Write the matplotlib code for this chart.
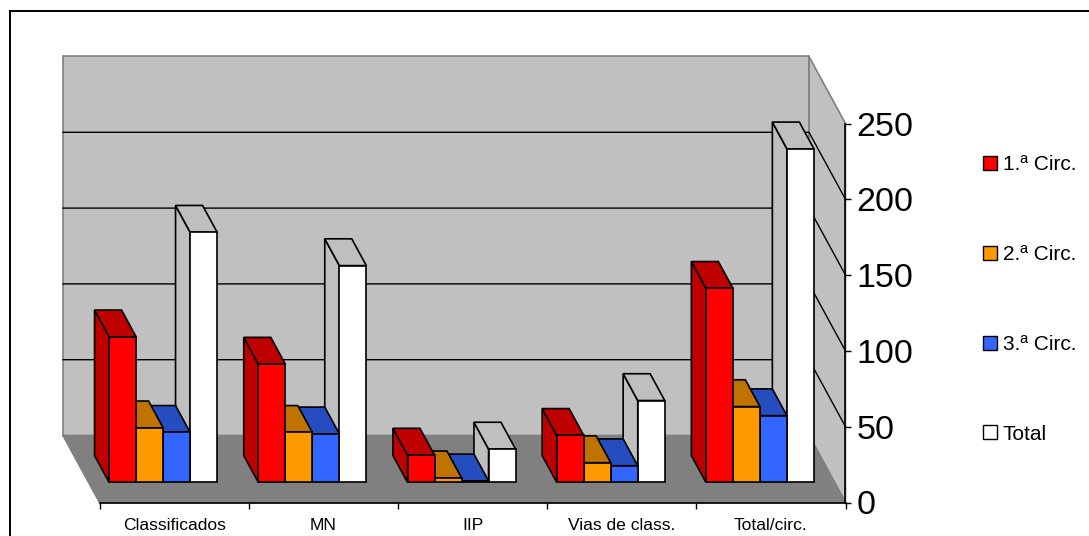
import matplotlib
matplotlib.use('Agg')
import matplotlib.pyplot as plt
from matplotlib.patches import Rectangle, Patch

categories = ['Classificados', 'MN', 'IIP', 'Vias de class.', 'Total/circ.']
circ1 = [96, 78, 18, 31, 128]
circ2 = [36, 33, 3, 13, 50]
circ3 = [33, 32, 1, 11, 44]
total = [165, 143, 22, 54, 220]
series_names = ['1.ª Circ.', '2.ª Circ.', '3.ª Circ.', 'Total']
colors = ['#FF0000', '#FF9900', '#3366FF', '#FFFFFF']
shades = ['#BF0000', '#BF7300', '#254DBF', '#BFBFBF']
yticks = [0, 50, 100, 150, 200, 250]

W, H = 1089, 536
plt.rcParams['font.family'] = ['Liberation Sans', 'DejaVu Sans']
fig = plt.figure(figsize=(W / 100, H / 100), dpi=100)
fig.patch.set_facecolor('white')

# front plane of the box, in pixels
ax = fig.add_axes([99.5 / W, 1 - 502.5 / H, 746 / W, 379 / H])
ax.set_xlim(0, 5)
ax.set_ylim(0, 250)
ax.patch.set_visible(False)

# depth of the box in data units
DX = 36.5 / 149.2
DY = 67 / 1.516


def proj(x, y, d):
    return x - DX * d, y + DY * d


def face(pts, color, edge='black', lw=1.2, z=2):
    xy = [proj(*p) for p in pts]
    ax.fill([p[0] for p in xy], [p[1] for p in xy], facecolor=color, edgecolor=edge,
            linewidth=lw, clip_on=False, zorder=z, joinstyle='miter')


# walls and floor
face([(0, 0, 1), (5, 0, 1), (5, 250, 1), (0, 250, 1)], '#C0C0C0', edge='#808080', z=1)
face([(5, 0, 1), (5, 0, 0), (5, 250, 0), (5, 250, 1)], '#C0C0C0', edge='#808080', z=1)
face([(0, 0, 1), (5, 0, 1), (5, 0, 0), (0, 0, 0)], '#808080', edge='#808080', z=1)

# gridlines on back and side wall
for v in yticks[1:-1]:
    a = proj(0, v, 1)
    b = proj(5, v, 1)
    c = proj(5, v, 0)
    ax.plot([a[0], b[0], c[0]], [a[1], b[1], c[1]], color='black', lw=1.0, clip_on=False, zorder=1.5)

# bars, right to left so the left ones cover the side faces
series = [circ1, circ2, circ3, total]
bw = 27 / 149.2
start = (1 - 4 * bw) / 2
z = 3
d0, d1 = 0.3, 0.7
for g in range(len(categories) - 1, -1, -1):
    for s in range(3, -1, -1):
        v = series[s][g]
        x0 = g + start + s * bw
        x1 = x0 + bw
        face([(x0, 0, d0), (x0, v, d0), (x0, v, d1), (x0, 0, d1)], shades[s], z=z)
        face([(x0, v, d0), (x1, v, d0), (x1, v, d1), (x0, v, d1)], shades[s], z=z)
        face([(x0, 0, d0), (x1, 0, d0), (x1, v, d0), (x0, v, d0)], colors[s], z=z)
        z += 1

# axes
for name in ['left', 'top']:
    ax.spines[name].set_visible(False)
for name in ['right', 'bottom']:
    ax.spines[name].set_linewidth(1.2)
    ax.spines[name].set_zorder(50)
ax.yaxis.tick_right()
ax.set_yticks(yticks)
ax.tick_params(axis='y', length=4.3, width=1.0, pad=3.5, labelsize=24.5)
ax.set_xticks(range(6))
ax.set_xticklabels([])
ax.set_xticks([i + 0.5 for i in range(5)], categories, minor=True)
ax.tick_params(axis='x', which='major', length=4, width=1.0)
ax.tick_params(axis='x', which='minor', length=0, pad=11.5, labelsize=12.6)

# legend
handles = [Patch(facecolor=colors[i], edgecolor='black', linewidth=1.0) for i in range(4)]
fig.legend(handles, series_names, loc='center left', bbox_to_anchor=(983 / W, 1 - 299.5 / H),
           frameon=False, fontsize=15, labelspacing=3.4, handlelength=0.65, handleheight=0.65,
           handletextpad=0.3, borderpad=0, borderaxespad=0)

# outer frame, right and bottom sides run off the picture
fig.add_artist(Rectangle((9.5 / W, -0.02), 1.1, 1.02 - 11 / H, transform=fig.transFigure,
                         facecolor='none', edgecolor='black', linewidth=1.4))

fig.savefig('out.png', dpi=100)
